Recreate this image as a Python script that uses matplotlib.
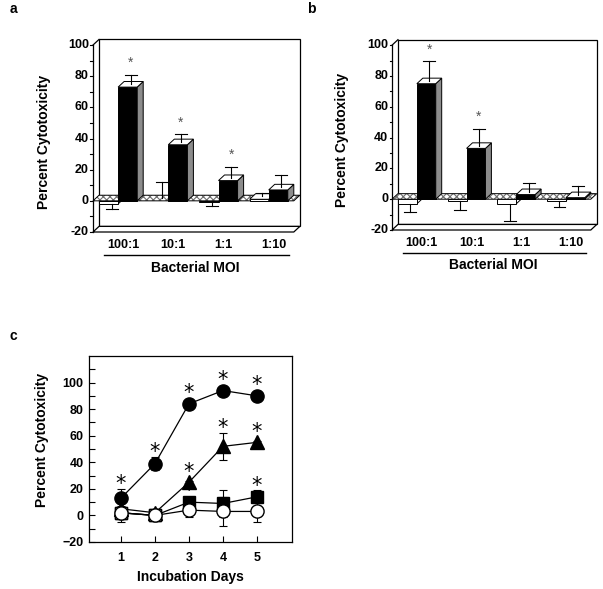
import matplotlib
matplotlib.use('Agg')
import matplotlib.pyplot as plt
from matplotlib.patches import Polygon, Rectangle
import numpy as np

plt.rcParams['font.family'] = ['Liberation Sans', 'DejaVu Sans']
plt.rcParams['font.weight'] = 'bold'
plt.rcParams['hatch.linewidth'] = 0.8

# ---------------- data ----------------
moi_labels = ['100:1', '10:1', '1:1', '1:10']

a_ctrl = [-2, 0, -1, 1]
a_ctrl_err = [3, 10, 2, 2]
a_trt = [73, 36, 13, 7]
a_trt_err = [6, 5, 7, 8]
a_star = [True, True, True, False]

b_ctrl = [-3, -1, -3, -1]
b_ctrl_err = [5, 6, 11, 4]
b_trt = [75, 33, 3, 1]
b_trt_err = [13, 11, 6, 6]
b_star = [True, True, False, False]

days = [1, 2, 3, 4, 5]
c_fcircle = [13, 39, 84, 94, 90]
c_fcircle_err = [7, 5, 1, 1, 1]
c_fcircle_star = [1, 1, 1, 1, 1]
c_ftri = [5, 2, 25, 52, 55]
c_ftri_err = [1, 2, 1, 10, 1]
c_ftri_star = [0, 0, 1, 1, 1]
c_fsq = [2, 0, 10, 9, 14]
c_fsq_err = [1, 1, 1, 10, 5]
c_fsq_star = [0, 0, 1, 0, 1]
c_osq = [2, 0, np.nan, np.nan, np.nan]
c_osq_err = [7, 1, 0, 0, 0]
c_ocircle = [2, 0, 4, 3, 3]
c_ocircle_err = [5, 1, 5, 11, 8]

yticks_ab = [-20, 0, 20, 40, 60, 80, 100]

# ---------------- figure ----------------
W_PX, H_PX = 603, 589
fig = plt.figure(figsize=(W_PX / 100, H_PX / 100), dpi=100)


def px_axes(x0, x1, y_top, y_bot):
    return fig.add_axes([x0 / W_PX, 1 - y_bot / H_PX, (x1 - x0) / W_PX, (y_bot - y_top) / H_PX])


W = 0.38
DX = 0.12
DY = 3.6


def bar_panel(ax, ctrl, ctrl_err, trt, trt_err, stars):
    n = len(ctrl)
    ax.set_xlim(0, n + DX)
    ax.set_ylim(-20, 100 + DY)
    ax.axis('off')
    kw = dict(clip_on=False)
    # back wall
    ax.add_patch(Polygon([(DX, -20 + DY), (n + DX, -20 + DY), (n + DX, 100 + DY), (DX, 100 + DY)],
                         closed=True, fc='white', ec='black', lw=0.9, **kw))
    # front axis and top slant
    ax.plot([0, 0], [-20, 100], color='black', lw=0.9, **kw)
    ax.plot([0, DX], [100, 100 + DY], color='black', lw=0.9, **kw)
    for t in range(-20, 101, 10):
        ax.plot([-0.05, 0], [t, t], color='black', lw=0.8, **kw)
    for t in yticks_ab:
        ax.text(-0.08, t, str(t), ha='right', va='center', fontsize=9, fontweight='bold')
    # floor at -20
    ax.add_patch(Polygon([(0, -20), (n, -20), (n + DX, -20 + DY), (DX, -20 + DY)],
                         closed=True, fc='white', ec='black', lw=0.9, **kw))
    # hanging (negative) bars
    for i in range(n):
        for x, v, fc in ((i + 0.12, ctrl[i], 'white'), (i + 0.50, trt[i], 'black')):
            if v < 0:
                ax.add_patch(Polygon([(x + W, v), (x + W + DX, v + DY), (x + W + DX, DY), (x + W, 0)],
                                     closed=True, fc='white', ec='black', lw=0.7, **kw))
                ax.add_patch(Rectangle((x, v), W, -v, fc=fc, ec='black', lw=0.7, **kw))
    # hatched zero plane
    slab = [(0, 0), (n, 0), (n + DX, DY), (DX, DY)]
    ax.add_patch(Polygon(slab, closed=True, fc='white', ec='#6e6e6e', lw=0, hatch='xxxxx', **kw))
    ax.add_patch(Polygon(slab, closed=True, fc='none', ec='black', lw=0.7, **kw))
    # positive bars
    for i in range(n):
        for x, v, fc, sc in ((i + 0.12, ctrl[i], 'white', 'white'), (i + 0.50, trt[i], 'black', '#8c8c8c')):
            if v > 0:
                ax.add_patch(Rectangle((x, 0), W, v, fc=fc, ec='black', lw=0.7, **kw))
                ax.add_patch(Polygon([(x + W, 0), (x + W + DX, DY), (x + W + DX, v + DY), (x + W, v)],
                                     closed=True, fc=sc, ec='black', lw=0.7, **kw))
                ax.add_patch(Polygon([(x, v), (x + W, v), (x + W + DX, v + DY), (x + DX, v + DY)],
                                     closed=True, fc='white', ec='black', lw=0.7, **kw))
    # error bars and stars
    cap = 0.12
    for i in range(n):
        for x, v, e, st in ((i + 0.12, ctrl[i], ctrl_err[i], False), (i + 0.50, trt[i], trt_err[i], stars[i])):
            xc = x + W / 2 + DX / 2
            if v >= 0:
                y0 = v + DY / 2
                y1 = y0 + e
            else:
                y0 = v
                y1 = v - e
            ax.plot([xc, xc], [y0, y1], color='black', lw=0.8, **kw)
            ax.plot([xc - cap, xc + cap], [y1, y1], color='black', lw=0.8, **kw)
            if st:
                ax.text(xc, y1 + 3, '*', ha='center', va='bottom', fontsize=10,
                        fontweight='normal', color='#555555')
    # category labels
    for i, lab in enumerate(moi_labels):
        ax.text(i + 0.6, -28.5, lab, ha='center', va='center', fontsize=9, fontweight='bold')
    ax.plot([0.22, n - 0.1], [-35, -35], color='black', lw=1.0, **kw)
    ax.text(2.03, -42.8, 'Bacterial MOI', ha='center', va='center', fontsize=10, fontweight='bold')


# panel a
ax_a = px_axes(93, 93 + (4 + DX) * 50.2, 232 - 123.6 * 1.558, 232)
bar_panel(ax_a, a_ctrl, a_ctrl_err, a_trt, a_trt_err, a_star)
fig.text(44 / W_PX, 1 - 142 / H_PX, 'Percent Cytotoxicity', rotation=90, ha='center', va='center',
         fontsize=10, fontweight='bold')

# panel b
ax_b = px_axes(392, 392 + (4 + DX) * 49.7, 230 - 123.6 * 1.54, 230)
bar_panel(ax_b, b_ctrl, b_ctrl_err, b_trt, b_trt_err, b_star)
fig.text(342 / W_PX, 1 - 140 / H_PX, 'Percent Cytotoxicity', rotation=90, ha='center', va='center',
         fontsize=10, fontweight='bold')

# panel c
ax_c = px_axes(89, 292, 356, 542)
ax_c.set_xlim(0.06, 6.03)
ax_c.set_ylim(-20, 120)
ax_c.set_xticks(days)
ax_c.set_yticks([-20, 0, 20, 40, 60, 80, 100])
ax_c.set_yticks(np.arange(-20, 120, 10), minor=True)
ax_c.tick_params(axis='both', which='both', direction='in', top=False, right=False,
                 labelsize=9, length=4, width=0.8)
ax_c.tick_params(axis='x', pad=7)
ax_c.tick_params(axis='y', pad=4)
for lab in ax_c.get_xticklabels() + ax_c.get_yticklabels():
    lab.set_fontweight('bold')
for s in ax_c.spines.values():
    s.set_linewidth(0.9)

series = [
    (c_fsq, c_fsq_err, 's', 'black', 8.5, c_fsq_star),
    (c_ftri, c_ftri_err, '^', 'black', 9.5, c_ftri_star),
    (c_fcircle, c_fcircle_err, 'o', 'black', 9.5, c_fcircle_star),
    (c_osq, c_osq_err, 's', 'white', 9.0, None),
    (c_ocircle, c_ocircle_err, 'o', 'white', 9.5, None),
]
for vals, errs, mk, fc, ms, stars in series:
    ax_c.errorbar(days, vals, yerr=errs, fmt='none', ecolor='black', elinewidth=0.8,
                  capsize=3, capthick=0.8, zorder=2)
    ax_c.plot(days, vals, color='black', lw=0.9, marker=mk, mfc=fc, mec='black', mew=1.0,
              ms=ms, zorder=3)
    if stars is not None:
        for d, v, e, s in zip(days, vals, errs, stars):
            if s:
                ax_c.text(d, max(v + e, v + 4.5) - 1, '*', ha='center', va='baseline', fontsize=15,
                          fontweight='normal', family='DejaVu Sans', zorder=4)

ax_c.set_ylabel('Percent Cytotoxicity', fontsize=10, fontweight='bold')
ax_c.set_xlabel('Incubation Days', fontsize=10, fontweight='bold')
ax_c.yaxis.set_label_coords(-0.195, 0.55)
ax_c.xaxis.set_label_coords(0.5, -0.15)

# panel letters
fig.text(10 / W_PX, 1 - 9 / H_PX, 'a', ha='left', va='center', fontsize=10, fontweight='bold')
fig.text(307 / W_PX, 1 - 9 / H_PX, 'b', ha='left', va='center', fontsize=10, fontweight='bold')
fig.text(10 / W_PX, 1 - 336 / H_PX, 'c', ha='left', va='center', fontsize=10, fontweight='bold')

fig.savefig('out.png', dpi=100)
